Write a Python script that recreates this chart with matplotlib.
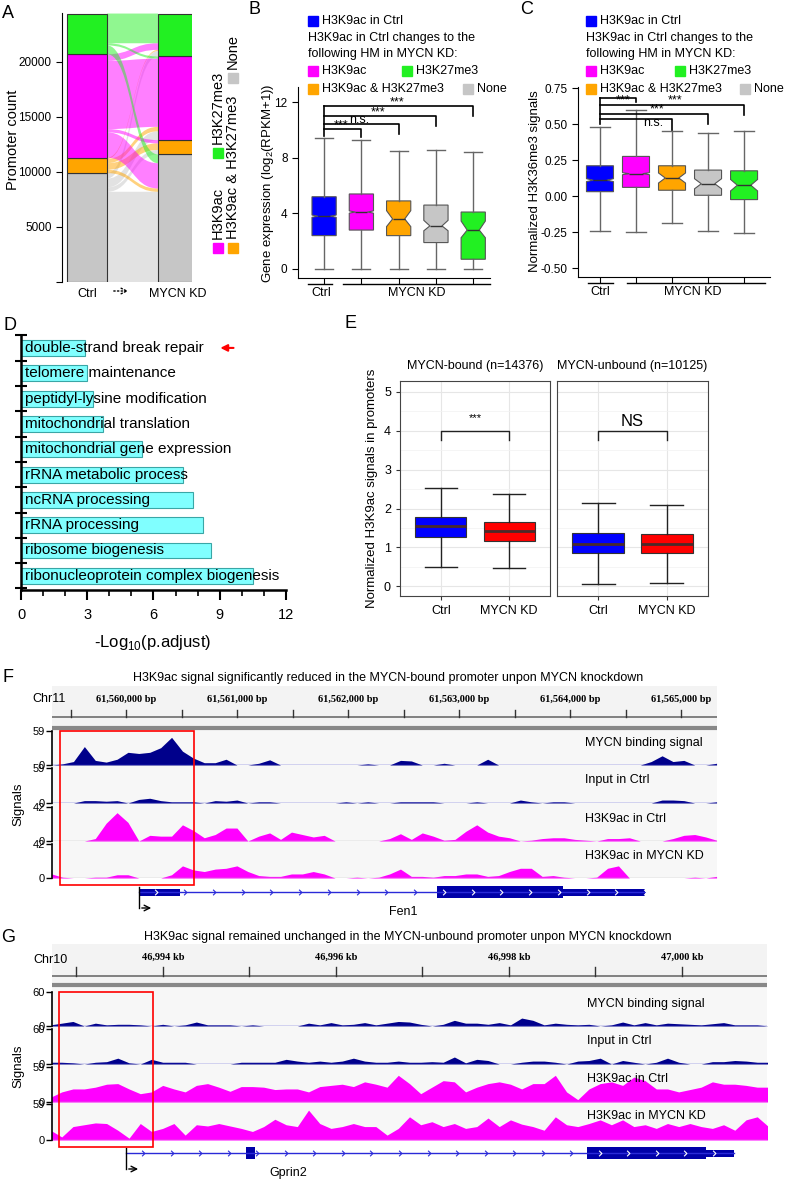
import numpy as np
import matplotlib.pyplot as plt
from matplotlib.path import Path
from matplotlib.patches import PathPatch, Rectangle

plt.rcParams['font.family'] = ['Liberation Sans', 'DejaVu Sans']
plt.rcParams['mathtext.fontset'] = 'custom'
plt.rcParams['mathtext.rm'] = 'Liberation Sans'
plt.rcParams['axes.linewidth'] = 0.8

# ---------------- data ----------------
# A: promoter states Ctrl -> MYCN KD (rows: Ctrl state, cols: KD state)
state_names = ['None', 'H3K9ac & H3K27me3', 'H3K9ac', 'H3K27me3']
flow_counts = [[8200, 400, 800, 500],
               [300, 600, 400, 100],
               [2300, 300, 6200, 600],
               [800, 0, 200, 2700]]

# B: gene expression, Ctrl then the four KD groups
b_whislo = [0, 0, 0, 0, 0]
b_q1 = [2.4, 2.8, 2.4, 1.9, 0.7]
b_med = [3.8, 4.1, 3.6, 3.1, 2.8]
b_q3 = [5.2, 5.4, 4.9, 4.6, 4.1]
b_whishi = [9.4, 9.3, 8.5, 8.6, 8.4]
b_cilo = [3.72, 4.02, 3.05, 2.75, 2.25]
b_cihi = [3.88, 4.18, 4.2, 3.5, 3.45]
b_sig = ['***', 'n.s.', '***', '***']

# C: H3K36me3 signals
c_whislo = [-0.24, -0.25, -0.19, -0.24, -0.26]
c_q1 = [0.03, 0.06, 0.04, 0.005, -0.025]
c_med = [0.11, 0.155, 0.125, 0.085, 0.075]
c_q3 = [0.21, 0.275, 0.21, 0.18, 0.175]
c_whishi = [0.48, 0.60, 0.45, 0.435, 0.45]
c_cilo = [0.10, 0.148, 0.09, 0.05, 0.035]
c_cihi = [0.12, 0.162, 0.16, 0.12, 0.115]
c_sig = ['***', 'n.s.', '***', '***']

# D: GO enrichment
go_terms = ['double-strand break repair', 'telomere maintenance',
            'peptidyl-lysine modification', 'mitochondrial translation',
            'mitochondrial gene expression', 'rRNA metabolic process',
            'ncRNA processing', 'rRNA processing', 'ribosome biogenesis',
            'ribonucleoprotein complex biogenesis']
go_logp = [2.9, 3.0, 3.25, 3.7, 5.5, 7.35, 7.8, 8.25, 8.6, 10.5]

# E: H3K9ac in promoters
e_groups = ['Ctrl', 'MYCN KD']
e_facets = ['MYCN-bound (n=14376)', 'MYCN-unbound (n=10125)']
e_whislo = [[0.5, 0.47], [0.07, 0.1]]
e_q1 = [[1.27, 1.17], [0.85, 0.85]]
e_med = [[1.55, 1.43], [1.1, 1.1]]
e_q3 = [[1.78, 1.65], [1.37, 1.35]]
e_whishi = [[2.53, 2.36], [2.15, 2.1]]
e_sig = ['***', 'NS']

# F: Fen1 locus (chr11), signal tracks
f_start, f_end = 61559330, 61565320
f_mycn = [0, 2, 6, 32, 8, 5, 10, 22, 20, 22, 30, 48, 24, 12, 4, 4, 10, 0, 0, 3,
          9, 0, 0, 0, 0, 0, 0, 0, 0, 2, 0, 0, 8, 7, 0, 0, 3, 0, 0, 0,
          10, 0, 0, 0, 0, 0, 0, 0, 0, 0, 0, 0, 0, 0, 0, 6, 16, 6, 8, 0, 0, 3]
f_input = [0, 0, 0, 4, 4, 3, 4, 0, 6, 8, 4, 2, 2, 2, 0, 4, 3, 5, 0, 2,
           2, 0, 0, 0, 0, 0, 0, 2, 0, 2, 0, 0, 2, 2, 2, 2, 0, 0, 0, 2,
           0, 0, 0, 5, 2, 0, 2, 2, 0, 0, 0, 0, 0, 0, 0, 0, 5, 5, 4, 0, 0, 2]
f_ac_ctrl = [0, 0, 0, 0, 3, 22, 35, 23, 0, 7, 6, 6, 20, 13, 4, 8, 16, 16, 0, 6,
             10, 2, 11, 8, 5, 7, 0, 0, 0, 0, 0, 3, 9, 2, 10, 6, 1, 2, 12, 20,
             11, 6, 4, 0, 1, 3, 4, 4, 2, 1, 0, 3, 3, 4, 0, 0, 0, 3, 7, 8, 5, 1]
f_ac_kd = [5, 1, 0, 0, 1, 1, 4, 4, 0, 0, 0, 4, 15, 10, 8, 11, 12, 15, 8, 3,
           2, 2, 5, 5, 8, 5, 0, 0, 1, 0, 1, 5, 11, 2, 2, 1, 3, 3, 5, 5,
           2, 3, 8, 12, 12, 2, 3, 1, 0, 0, 1, 12, 15, 0, 0, 0, 0, 0, 0, 1, 0, 2]
f_track_names = ['MYCN binding signal', 'Input in Ctrl', 'H3K9ac in Ctrl', 'H3K9ac in MYCN KD']
f_track_max = [59, 59, 42, 42]
f_gene = 'Fen1'
f_tss, f_gene_end = 61560117, 61564676
f_exons = [(61560117, 61560486, 'utr'), (61562802, 61563937, 'cds'), (61563937, 61564676, 'utr')]

# G: Gprin2 locus (chr10), signal tracks
g_start, g_end = 46992700, 47001000
g_mycn = [2, 5, 8, 0, 5, 2, 3, 3, 2, 0, 3, 0, 2, 7, 2, 2, 2, 0, 2, 0,
          0, 0, 0, 5, 2, 6, 2, 3, 6, 2, 5, 8, 7, 3, 0, 3, 10, 5, 5, 3,
          6, 2, 14, 10, 2, 5, 3, 2, 3, 0, 2, 7, 2, 6, 2, 5, 4, 3, 2, 4, 6, 2, 2, 2, 0]
g_input = [3, 3, 2, 0, 3, 4, 10, 2, 0, 8, 3, 3, 3, 0, 0, 0, 0, 3, 3, 3,
           3, 8, 5, 3, 5, 3, 5, 10, 5, 3, 3, 5, 3, 3, 4, 3, 12, 2, 8, 6,
           0, 0, 3, 5, 5, 3, 0, 5, 6, 10, 0, 6, 3, 0, 3, 10, 3, 0, 0, 4, 4, 6, 5, 3, 3]
g_ac_ctrl = [8, 17, 22, 22, 25, 30, 31, 22, 14, 17, 28, 22, 17, 28, 31, 25, 18, 26, 26, 25,
             21, 22, 22, 17, 26, 28, 30, 26, 34, 30, 25, 45, 31, 14, 25, 36, 34, 17, 25, 31,
             34, 30, 22, 31, 31, 45, 17, 4, 22, 31, 34, 28, 42, 36, 22, 22, 17, 21, 25, 34,
             30, 30, 28, 25, 25]
g_ac_kd = [16, 5, 22, 25, 28, 27, 16, 3, 27, 14, 19, 27, 8, 25, 23, 27, 23, 19, 14, 22,
           34, 25, 22, 49, 27, 19, 22, 27, 22, 22, 8, 19, 38, 25, 30, 22, 27, 19, 22, 36,
           22, 33, 26, 22, 16, 38, 25, 22, 27, 33, 25, 33, 22, 25, 19, 27, 22, 27, 22, 19,
           25, 16, 33, 38, 22]
g_track_max = [60, 60, 59, 59]
g_gene = 'Gprin2'
g_tss, g_gene_end = 46993572, 47000600
g_exons = [(46994960, 46995060, 'cds'), (46998900, 47000280, 'cds'), (47000280, 47000600, 'utr')]

# ---------------- styles ----------------
W, H = 787, 1180
c_none, c_both, c_ac, c_me3 = '#c6c6c6', '#ffa500', '#ff00ff', '#22f022'
state_colors = [c_none, c_both, c_ac, c_me3]
box_colors = ['#0000ff', c_ac, c_both, c_none, c_me3]
navy, pink = '#00008b', '#ff00ff'

fig = plt.figure(figsize=(W / 100, H / 100), dpi=100)


def px_box(l, t, r, b):
    return [l / W, 1 - b / H, (r - l) / W, (b - t) / H]


back = fig.add_axes([0, 0, 1, 1], zorder=-5)
back.set_xlim(0, W); back.set_ylim(H, 0); back.axis('off')
over = fig.add_axes([0, 0, 1, 1], zorder=20)
over.set_xlim(0, W); over.set_ylim(H, 0); over.axis('off')

for lab, (x, y) in zip('ABCDEFG', [(8, 14), (255, 10), (527, 10), (10, 325),
                                   (350, 324), (8, 677), (8, 937)]):
    over.text(x, y, lab, fontsize=13, ha='center', va='center')

# ---------------- A: alluvial ----------------
axA = fig.add_axes(px_box(62, 13, 192, 282))
bw = 0.44
ctrl_tot = [sum(r) for r in flow_counts]
kd_tot = [sum(r[j] for r in flow_counts) for j in range(4)]
ctrl_base = np.concatenate([[0], np.cumsum(ctrl_tot)[:-1]])
kd_base = np.concatenate([[0], np.cumsum(kd_tot)[:-1]])
left_off = list(ctrl_base)
right_off = list(kd_base)
x0, x1, xm = bw / 2, 1 - bw / 2, 0.5
for i in range(4):
    for j in range(4):
        v = flow_counts[i][j]
        if v == 0:
            continue
        l0, r0 = left_off[i], right_off[j]
        l1, r1 = l0 + v, r0 + v
        verts = [(x0, l0), (xm, l0), (xm, r0), (x1, r0), (x1, r1),
                 (xm, r1), (xm, l1), (x0, l1), (x0, l0)]
        codes = [Path.MOVETO, Path.CURVE4, Path.CURVE4, Path.CURVE4, Path.LINETO,
                 Path.CURVE4, Path.CURVE4, Path.CURVE4, Path.CLOSEPOLY]
        axA.add_patch(PathPatch(Path(verts, codes), facecolor=state_colors[i],
                                alpha=0.5, lw=0))
        left_off[i] += v
        right_off[j] += v
for xc, bases, tots in [(0, ctrl_base, ctrl_tot), (1, kd_base, kd_tot)]:
    for k in range(4):
        axA.add_patch(Rectangle((xc - bw / 2, bases[k]), bw, tots[k],
                                facecolor=state_colors[k], edgecolor='#333', lw=0.8))
axA.set_xlim(-0.275, 1.154)
axA.set_ylim(0, 24450)
axA.set_yticks([0, 5000, 10000, 15000, 20000])
axA.set_yticklabels(['', '5000', '10000', '15000', '20000'], fontsize=8.5)
axA.set_xticks([0, 1])
axA.set_xticklabels(['Ctrl', 'MYCN KD'], fontsize=9)
axA.tick_params(axis='x', length=0, pad=4)
axA.tick_params(axis='y', length=4)
for s in ['top', 'right', 'bottom']:
    axA.spines[s].set_visible(False)
over.annotate('', xy=(131, 291), xytext=(111, 291),
              arrowprops=dict(arrowstyle='->', linestyle=':', lw=1, color='k'))
over.text(13, 140, 'Promoter count', rotation=90, fontsize=10.5, ha='center', va='center')
# rotated legend
for (sx, sy, name, col) in [(218, 248, 'H3K9ac', c_ac), (233, 248, 'H3K9ac & H3K27me3', c_both),
                            (218, 153, 'H3K27me3', c_me3), (233, 78, 'None', c_none)]:
    over.add_patch(Rectangle((sx - 5, sy - 5), 10, 10, color=col))
    over.text(sx, sy - 9, name, rotation=90, fontsize=10.5, ha='center', va='bottom')


# ---------------- B and C: notched boxplots ----------------
def legend_block(xs, xcol2, xnone):
    rows = [21, 38, 54, 71, 89]
    over.add_patch(Rectangle((xs, rows[0] - 5), 10, 10, color='#0000ff'))
    over.text(xs + 14, rows[0], 'H3K9ac in Ctrl', fontsize=9, va='center')
    over.text(xs, rows[1], 'H3K9ac in Ctrl changes to the', fontsize=9, va='center')
    over.text(xs, rows[2], 'following HM in MYCN KD:', fontsize=9, va='center')
    for x, y, name, col in [(xs, rows[3], 'H3K9ac', c_ac), (xcol2, rows[3], 'H3K27me3', c_me3),
                            (xs, rows[4], 'H3K9ac & H3K27me3', c_both), (xnone, rows[4], 'None', c_none)]:
        over.add_patch(Rectangle((x, y - 5), 10, 10, color=col))
        over.text(x + 14, y, name, fontsize=9, va='center')


def notched(ax, whislo, q1, med, q3, whishi, cilo, cihi, width):
    stats = [dict(whislo=whislo[i], q1=q1[i], med=med[i], q3=q3[i], whishi=whishi[i],
                  cilo=cilo[i], cihi=cihi[i], fliers=[]) for i in range(len(med))]
    art = ax.bxp(stats, positions=range(len(med)), widths=width, capwidths=width * 0.75,
                 shownotches=True, patch_artist=True, showfliers=False, manage_ticks=False,
                 boxprops=dict(edgecolor='#555', lw=0.8),
                 whiskerprops=dict(color='#666', lw=1), capprops=dict(color='#666', lw=1),
                 medianprops=dict(color='#333', lw=1))
    for p, c in zip(art['boxes'], box_colors):
        p.set_facecolor(c)
    ax.set_xticks(range(len(med)))
    ax.set_xticklabels([])
    ax.tick_params(axis='x', length=4)
    ax.tick_params(axis='y', labelsize=8.5, length=4)
    for s in ['top', 'right']:
        ax.spines[s].set_visible(False)


axB = fig.add_axes(px_box(298, 87, 490, 278))
notched(axB, b_whislo, b_q1, b_med, b_q3, b_whishi, b_cilo, b_cihi, 0.65)
axB.set_xlim(-0.7, 4.45)
axB.set_ylim(-0.65, 13.1)
axB.set_yticks([0, 4, 8, 12])
b_lvl = [(10.1, 9.5, 0.45, 10.35), (10.45, 9.7, 0.95, 10.75),
         (11.0, 10.3, 1.45, 11.3), (11.7, 11.0, 1.95, 12.0)]
axB.plot([0, 0], [9.6, 11.7], color='k', lw=1.2)
for k, (lv, drop, tx, ty) in enumerate(b_lvl):
    axB.plot([0, k + 1, k + 1], [lv, lv, drop], color='k', lw=1.2)
    axB.text(tx, ty, b_sig[k], fontsize=9, ha='center', va='center')
over.text(268, 183, 'Gene expression (log$_2$(RPKM+1))', rotation=90, fontsize=9.5,
          ha='center', va='center')
legend_block(308, 402, 463)
over.plot([308, 332], [284, 284], color='k', lw=1)
over.plot([343, 490], [284, 284], color='k', lw=1)
over.text(321, 293, 'Ctrl', fontsize=9, ha='center', va='center')
over.text(417, 293, 'MYCN KD', fontsize=9, ha='center', va='center')

axC = fig.add_axes(px_box(578, 87, 770, 277))
notched(axC, c_whislo, c_q1, c_med, c_q3, c_whishi, c_cilo, c_cihi, 0.75)
axC.set_xlim(-0.61, 4.72)
axC.set_ylim(-0.5625, 0.757)
axC.set_yticks([-0.5, -0.25, 0, 0.25, 0.5, 0.75])
axC.set_yticklabels(['-0.50', '-0.25', '0.00', '0.25', '0.50', '0.75'])
c_lvl = [(0.678, 0.656, 0.64, 0.662), (0.533, 0.458, 1.47, 0.506),
         (0.567, 0.50, 1.58, 0.603), (0.63, 0.5625, 2.08, 0.662)]
axC.plot([0, 0], [0.5, 0.678], color='k', lw=1.2)
for k, (lv, drop, tx, ty) in enumerate(c_lvl):
    axC.plot([0, k + 1, k + 1], [lv, lv, drop], color='k', lw=1.2)
    axC.text(tx, ty, c_sig[k], fontsize=9, ha='center', va='center')
over.text(535, 181, 'Normalized H3K36me3 signals', rotation=90, fontsize=9.5,
          ha='center', va='center')
legend_block(586, 675, 740)
over.plot([588, 613], [283, 283], color='k', lw=1)
over.plot([627, 765], [283, 283], color='k', lw=1)
over.text(600, 292, 'Ctrl', fontsize=9, ha='center', va='center')
over.text(693, 292, 'MYCN KD', fontsize=9, ha='center', va='center')

# ---------------- D: GO bars ----------------
axD = fig.add_axes(px_box(21, 335, 286, 590))
axD.barh(range(len(go_logp)), go_logp, height=0.63, color='#80ffff',
         edgecolor='#3aa6a6', lw=0.8)
for i, t in enumerate(go_terms):
    axD.text(0.18, i, t, fontsize=11, ha='left', va='center')
axD.set_xlim(0, 12)
axD.set_ylim(9.56, -0.51)
axD.set_yticks(np.arange(-0.5, len(go_logp), 1))
axD.set_yticklabels([])
axD.tick_params(axis='y', direction='inout', length=8, width=1.5)
axD.set_xticks([0, 3, 6, 9, 12])
axD.set_xticks(range(13), minor=True)
axD.tick_params(axis='x', which='major', length=7, width=1.5, labelsize=10.5, pad=6)
axD.tick_params(axis='x', which='minor', length=4, width=1.2)
for s in ['left', 'bottom']:
    axD.spines[s].set_linewidth(1.8)
for s in ['top', 'right']:
    axD.spines[s].set_visible(False)
axD.annotate('', xy=(8.9, 0), xytext=(9.75, 0), annotation_clip=False,
             arrowprops=dict(arrowstyle='-|>', color='red', lw=1.5, mutation_scale=10))
over.text(153, 642, '-Log$_{10}$(p.adjust)', fontsize=12, ha='center', va='center')

# ---------------- E: facetted boxplots ----------------
for k, (l, r) in enumerate([(400, 550), (557, 708)]):
    ax = fig.add_axes(px_box(l, 381, r, 596))
    stats = [dict(whislo=e_whislo[k][g], q1=e_q1[k][g], med=e_med[k][g], q3=e_q3[k][g],
                  whishi=e_whishi[k][g], fliers=[]) for g in range(2)]
    art = ax.bxp(stats, positions=[1, 2], widths=0.75, capwidths=0.48, patch_artist=True,
                 showfliers=False, manage_ticks=False,
                 boxprops=dict(edgecolor='#333', lw=0.8),
                 whiskerprops=dict(color='#222', lw=1), capprops=dict(color='#222', lw=1),
                 medianprops=dict(color='#4a2a2a', lw=2))
    for p, c in zip(art['boxes'], ['#0000ff', '#ff0000']):
        p.set_facecolor(c)
    ax.set_xlim(0.4, 2.6)
    ax.set_ylim(-0.244, 5.27)
    ax.set_xticks([1, 2])
    ax.set_xticklabels(e_groups)
    ax.set_yticks(range(6))
    ax.set_yticks(np.arange(0.5, 5.5, 1), minor=True)
    ax.grid(True, which='major', color='#e6e6e6', lw=0.8)
    ax.grid(True, which='minor', axis='y', color='#f2f2f2', lw=0.5)
    ax.set_axisbelow(True)
    for s in ax.spines.values():
        s.set_color('#444')
    ax.tick_params(labelsize=9, length=3, color='#333')
    ax.tick_params(axis='y', which='minor', length=0)
    if k == 1:
        ax.tick_params(axis='y', left=False, labelleft=False)
    ax.plot([1, 1, 2, 2], [3.75, 4, 4, 3.75], color='#222', lw=1)
    if e_sig[k] == 'NS':
        ax.text(1.5, 4.05, e_sig[k], fontsize=12, ha='center', va='bottom')
    else:
        ax.text(1.5, 4.2, e_sig[k], fontsize=8, ha='center', va='bottom')
    ax.text(0.5, 1.04, e_facets[k], transform=ax.transAxes, fontsize=9,
            ha='center', va='bottom')
over.text(372, 488, 'Normalized H3K9ac signals in promoters', rotation=90, fontsize=9.5,
          ha='center', va='center')

# ---------------- F and G: genome browser ----------------
chev = Path([(-0.5, 1), (0.5, 0), (-0.5, -1)], [Path.MOVETO, Path.LINETO, Path.LINETO])


def browser(left, right, xlim, ruler_top, ruler_bot, line_y, tick_top, bar_y,
            ticks, labels, chrom, chrom_xy, title, title_xy,
            tracks, xs_range, maxes, track_rows, label_x,
            gene, tss, gend, exons, gene_y, chev_step, arrow_len, gene_label_x):
    # ruler
    axr = fig.add_axes(px_box(left, ruler_top - 2, right, bar_y + 3))
    axr.set_xlim(xlim)
    axr.set_ylim(bar_y + 3, ruler_top - 2)
    axr.axis('off')
    axr.axhspan(ruler_top, line_y + 9, color='#f3f3f3', lw=0)
    axr.axhline(line_y, color='#777', lw=1.3)
    axr.axhline(bar_y, color='#888', lw=3)
    for t in ticks:
        axr.plot([t, t], [tick_top, line_y], color='#333', lw=1)
    for t, lab in labels:
        axr.text(t, (ruler_top + tick_top) / 2 + 2, lab, fontsize=7.5, fontweight='bold',
                 family='Liberation Serif', ha='center', va='center')
    over.text(chrom_xy[0], chrom_xy[1], chrom, fontsize=9, ha='center', va='center')
    over.text(title_xy[0], title_xy[1], title, fontsize=9, ha='center', va='center')
    # background of the track area
    back.add_patch(Rectangle((left, bar_y + 2), right - left, track_rows[-1][1] - bar_y - 2,
                             color='#f7f7f7', lw=0))
    # signal tracks
    for vals, vmax, (top, base), name, col in zip(tracks, maxes, track_rows,
                                                  f_track_names, [navy, navy, pink, pink]):
        ax = fig.add_axes(px_box(left, top, right, base))
        xs = np.linspace(xs_range[0], xs_range[1], len(vals))
        ax.fill_between(xs, 0, vals, color=col, lw=0)
        ax.axhline(0, color='#3b3bd0' if col == navy else '#bbbbbb', lw=1)
        ax.set_xlim(xlim)
        ax.set_ylim(0, vmax)
        ax.set_facecolor('none')
        ax.set_yticks([0, vmax])
        ax.set_yticklabels(['0', str(vmax)])
        ax.tick_params(axis='y', labelsize=8, length=4, pad=1, width=1)
        ax.set_xticks([])
        for s in ['top', 'right', 'bottom']:
            ax.spines[s].set_visible(False)
        ax.spines['left'].set_linewidth(1.2)
        over.text(label_x, top + 12, name, fontsize=9, ha='left', va='center')
    over.text(18, (track_rows[0][0] + track_rows[-1][1]) / 2, 'Signals', rotation=90,
              fontsize=9.5, ha='center', va='center')
    # gene model
    axg = fig.add_axes(px_box(left, gene_y - 12, right, gene_y + 24))
    axg.set_xlim(xlim)
    axg.set_ylim(gene_y + 24, gene_y - 12)
    axg.axis('off')
    axg.plot([tss, gend], [gene_y, gene_y], color='#2a2ad8', lw=1)
    for s, e, kind in exons:
        h = 12 if kind == 'cds' else 7
        axg.add_patch(Rectangle((s, gene_y - h / 2), e - s, h, color='#0000a8', lw=0))
    for cx in np.arange(tss + chev_step * 0.6, gend, chev_step):
        inside = any(s <= cx <= e for s, e, _ in exons)
        axg.plot(cx, gene_y, marker=chev, ms=4, mfc='none',
                 mec='white' if inside else '#2a2ad8', mew=0.8)
    axg.plot([tss, tss], [gene_y - 5, gene_y + 16], color='k', lw=1)
    axg.annotate('', xy=(tss + arrow_len, gene_y + 16), xytext=(tss, gene_y + 16),
                 arrowprops=dict(arrowstyle='->', color='k', lw=1))
    over.text(gene_label_x, gene_y + 20, gene, fontsize=9, ha='center', va='center')


f_ticks = np.arange(61559500, 61565001, 500)
f_labels = [(t, f'{t:,} bp') for t in f_ticks if t % 1000 == 0]
browser(52, 717, (61559333, 61565324), 686, 727, 717, 710, 728,
        f_ticks, f_labels, 'Chr11', (49, 699),
        'H3K9ac signal significantly reduced in the MYCN-bound promoter unpon MYCN knockdown',
        (388, 678), [f_mycn, f_input, f_ac_ctrl, f_ac_kd], (f_start, f_end), f_track_max,
        [(731, 765), (768, 803), (807, 841), (844, 878)], 585,
        f_gene, f_tss, f_gene_end, f_exons, 892, 259, 135, 403)

g_ticks = np.arange(46993000, 47000001, 1000)
g_labels = [(t, f'{t // 1000:,} kb') for t in g_ticks if (t // 1000) % 2 == 0]
browser(52, 767, (46992717, 47000983), 944, 988, 976, 967, 985,
        g_ticks, g_labels, 'Chr10', (51, 960),
        'H3K9ac signal remained unchanged in the MYCN-unbound promoter unpon MYCN knockdown',
        (408, 937), [g_mycn, g_input, g_ac_ctrl, g_ac_kd], (g_start, g_end), g_track_max,
        [(992, 1026), (1029, 1064), (1067, 1102), (1104, 1140)], 587,
        g_gene, g_tss, g_gene_end, g_exons, 1153, 330, 173, 288)

# highlighted promoter windows
over.add_patch(Rectangle((60, 731), 134, 154, fill=False, ec='red', lw=1.2))
over.add_patch(Rectangle((59, 992), 94, 155, fill=False, ec='red', lw=1.2))

fig.savefig('out.png', dpi=100)
